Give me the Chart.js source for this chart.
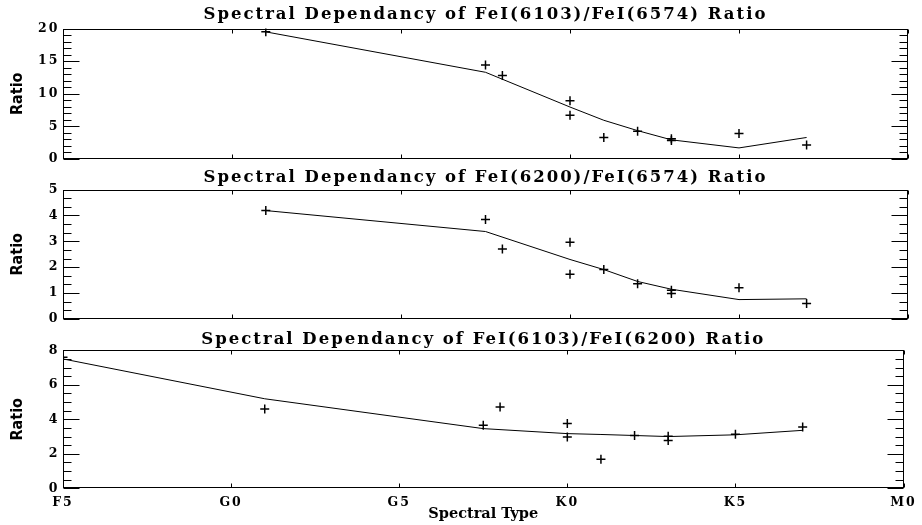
<!DOCTYPE html>
<html>
<head>
<meta charset="utf-8">
<script src="https://cdn.jsdelivr.net/npm/chart.js@4.4.1/dist/chart.umd.min.js"></script>
<style>
body { margin: 0; background: #fff; }
#wrap { position: relative; width: 922px; height: 525px; overflow: hidden; }
canvas { position: absolute; left: 0; display: block; }
</style>
</head>
<body>
<div id="wrap">
  <canvas id="c1" width="922" height="170" style="top:0px"></canvas>
  <canvas id="c2" width="922" height="165" style="top:165px"></canvas>
  <canvas id="c3" width="922" height="200" style="top:325px"></canvas>
</div>
<script>
// spectral subtype index: F5 = 0, G0 = 5, G5 = 10, K0 = 15, K5 = 20, M0 = 25
const typeLabels = ['F5', 'G0', 'G5', 'K0', 'K5', 'M0']

const starX = [6, 12.5, 13, 15, 15, 16, 17, 18, 18, 20, 22]
const fitX = [6, 12.5, 15, 16, 17, 18, 20, 22]

// FeI(6103)/FeI(6574)
const ratio1 = [19.5, 14.4, 12.8, 8.95, 6.7, 3.3, 4.25, 3.1, 2.85, 3.9, 2.15]
const fit1 = [19.5, 13.3, 7.97, 5.94, 4.35, 2.94, 1.7, 3.3]

// FeI(6200)/FeI(6574)
const ratio2 = [4.19, 3.84, 2.70, 2.97, 1.73, 1.91, 1.36, 1.11, 0.99, 1.21, 0.60]
const fit2 = [4.19, 3.38, 2.30, 1.91, 1.45, 1.15, 0.75, 0.78]

// FeI(6103)/FeI(6200), has an F5 star too
const starX3 = [0, 6, 12.5, 13, 15, 15, 16, 17, 18, 18, 20, 22]
const ratio3 = [7.6, 4.59, 3.65, 4.71, 3.75, 2.98, 1.69, 3.06, 3.02, 2.77, 3.13, 3.55]
const fitX3 = [0, 6, 12.5, 15, 16, 17, 18, 20, 22]
const fit3 = [7.5, 5.19, 3.46, 3.17, 3.12, 3.06, 3.0, 3.1, 3.36]

const serif = 'DejaVu Serif'

// IDL look: box frame with inward ticks, spaced text
const idlFrame = {
    id: 'idlFrame',
    beforeDraw(chart) {
        chart.ctx.letterSpacing = '2px'
    },
    afterDatasetsDraw(chart) {
        // axis titles are drawn after this (grid.z = 1), keep them unspaced
        chart.ctx.letterSpacing = '0px'
    },
    afterDraw(chart, args, opts) {
        const ctx = chart.ctx
        const a = chart.chartArea
        const x = chart.scales.x
        const y = chart.scales.y
        const L = Math.round(a.left) + 0.5, R = Math.round(a.right) - 0.5
        const T = Math.round(a.top) + 0.5, B = Math.round(a.bottom) - 0.5
        ctx.save()
        ctx.strokeStyle = '#000'
        ctx.lineWidth = 1
        ctx.strokeRect(L, T, R - L, B - T)
        ctx.beginPath()
        for (let v = y.min; v <= y.max + 1e-6; v += opts.minor) {
            const py = Math.round(y.getPixelForValue(v)) + 0.5
            const q = v / opts.major
            const len = Math.abs(q - Math.round(q)) < 1e-6 ? 16 : 8
            ctx.moveTo(L, py); ctx.lineTo(L + len, py)
            ctx.moveTo(R, py); ctx.lineTo(R - len, py)
        }
        x.ticks.forEach(t => {
            const px = Math.round(x.getPixelForValue(t.value)) + 0.5
            ctx.moveTo(px, T); ctx.lineTo(px, T + 4)
            ctx.moveTo(px, B); ctx.lineTo(px, B - 4)
        })
        ctx.stroke()
        ctx.restore()
    }
}

function panel(id, p) {
    return new Chart(document.getElementById(id), {
        type: 'scatter',
        data: {
            datasets: [{
                data: p.fx.map((v, i) => ({x: v, y: p.fy[i]})),
                showLine: true,
                borderColor: '#000',
                borderWidth: 1,
                pointRadius: 0
            }, {
                data: p.px.map((v, i) => ({x: v, y: p.py[i]})),
                pointStyle: 'cross',
                pointRadius: 4.5,
                borderColor: '#000',
                backgroundColor: '#000',
                borderWidth: 1.5
            }]
        },
        options: {
            responsive: false,
            animation: false,
            events: [],
            layout: {padding: {right: 14}},
            plugins: {
                legend: {display: false},
                tooltip: {enabled: false},
                title: {
                    display: true,
                    text: p.title,
                    fullSize: false,
                    color: '#000',
                    font: {family: serif, weight: 'bold', size: 16.5, lineHeight: 1.2},
                    padding: p.tpad
                },
                idlFrame: {major: p.major, minor: p.minor}
            },
            scales: {
                x: {
                    type: 'linear',
                    min: 0,
                    max: 25,
                    grid: {display: false, drawTicks: false, z: 1},
                    border: {display: false},
                    ticks: {
                        display: p.showX,
                        stepSize: 5,
                        autoSkip: false,
                        maxRotation: 0,
                        padding: 7.2,
                        color: '#000',
                        font: {family: serif, weight: 'bold', size: 12.5, lineHeight: 1.2},
                        callback: v => typeLabels[v / 5],
                        z: -1
                    },
                    title: {
                        display: p.showX,
                        text: 'Spectral Type',
                        color: '#000',
                        font: {family: serif, weight: 'bold', size: 14.5, lineHeight: 1.2},
                        padding: {top: 0, bottom: 2.5}
                    },
                    afterFit(s) { s.height = p.xh }
                },
                y: {
                    min: 0,
                    max: p.ymax,
                    grid: {display: false, drawTicks: false, z: 1},
                    border: {display: false},
                    ticks: {
                        stepSize: p.major,
                        padding: 3.5,
                        color: '#000',
                        font: {family: serif, weight: 'bold', size: 12.5},
                        z: -1
                    },
                    title: {
                        display: true,
                        text: 'Ratio',
                        color: '#000',
                        font: {family: "'Liberation Sans Narrow', 'DejaVu Sans Condensed', sans-serif", weight: 'bold', size: 16, lineHeight: 1},
                        padding: {top: 10, bottom: 0}
                    },
                    afterFit(s) { s.width = 63 }
                }
            }
        },
        plugins: [idlFrame]
    })
}

panel('c1', {
    title: 'Spectral Dependancy of FeI(6103)/FeI(6574) Ratio',
    px: starX, py: ratio1, fx: fitX, fy: fit1,
    ymax: 20, major: 5, minor: 1,
    showX: false, xh: 4, tpad: {top: 5.2, bottom: 3.6}
})
panel('c2', {
    title: 'Spectral Dependancy of FeI(6200)/FeI(6574) Ratio',
    px: starX, py: ratio2, fx: fitX, fy: fit2,
    ymax: 5, major: 1, minor: 1 / 3,
    showX: false, xh: 3.3, tpad: {top: 2.4, bottom: 2.4}
})
panel('c3', {
    title: 'Spectral Dependancy of FeI(6103)/FeI(6200) Ratio',
    px: starX3, py: ratio3, fx: fitX3, fy: fit3,
    ymax: 8, major: 2, minor: 0.5,
    showX: true, xh: 36.7, tpad: {top: 4.7, bottom: 0.8}
})
</script>
</body>
</html>
